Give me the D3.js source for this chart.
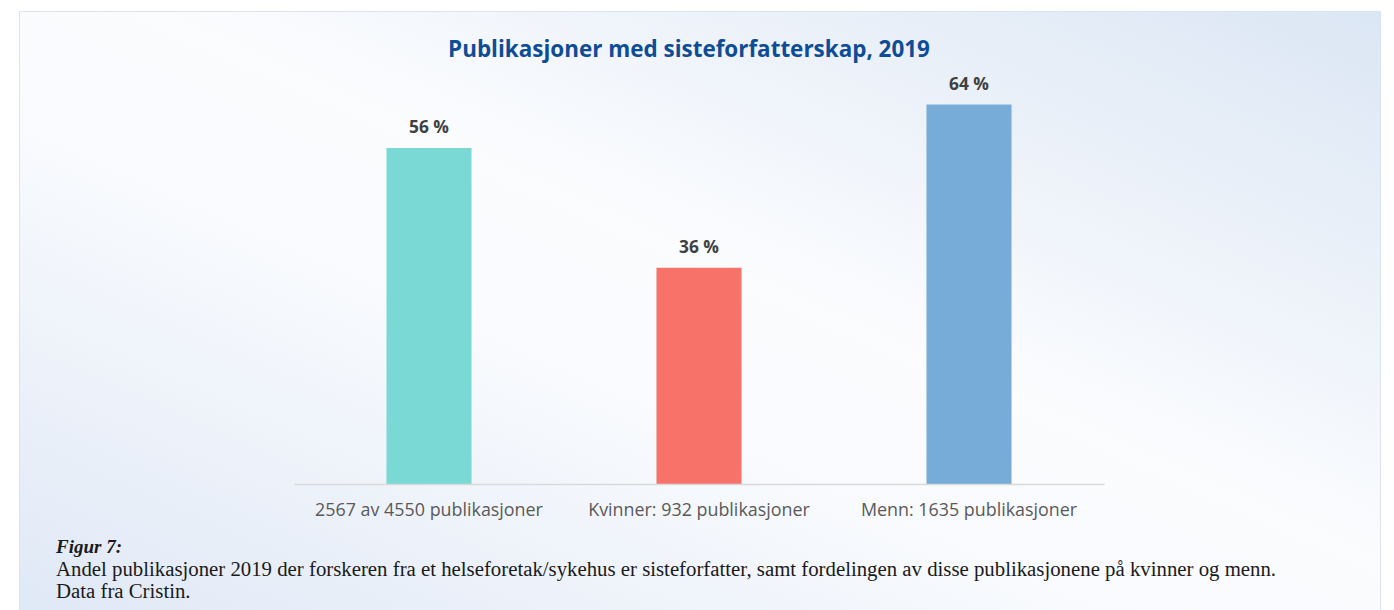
<!DOCTYPE html>
<html>
<head>
<meta charset="utf-8">
<script src="https://cdn.jsdelivr.net/npm/d3@7"></script>
<style>
	body { margin: 0; background: #ffffff; }
	svg { display: block; }
</style>
</head>
<body>
<svg id="svg"></svg>
<script>
var width = 1394, height = 610;

// data
var categories = ["2567 av 4550 publikasjoner", "Kvinner: 932 publikasjoner", "Menn: 1635 publikasjoner"];
var shares = [56.4, 36.3, 63.7];
var barColors = ["#7ad9d4", "#f7736a", "#77acd9"];
var title = "Publikasjoner med sisteforfatterskap, 2019";
var captionHead = "Figur 7:";
var captionLines = [
	"Andel publikasjoner 2019 der forskeren fra et helseforetak/sykehus er sisteforfatter, samt fordelingen av disse publikasjonene på kvinner og menn.",
	"Data fra Cristin."
];

var svg = d3.select("#svg")
	.attr("width", width)
	.attr("height", height);

// font size that makes a text reach a measured width
function fitSize(sel, target)
{
	var size = parseFloat(sel.style("font-size"));
	var w = sel.node().getComputedTextLength();
	return size * target / w;
}

var defs = svg.append("defs");
var grad = defs.append("linearGradient")
	.attr("id", "bg")
	.attr("x1", 1).attr("y1", 0)
	.attr("x2", 0).attr("y2", 1);
grad.append("stop").attr("offset", 0).attr("stop-color", "#dbe6f4");
grad.append("stop").attr("offset", 0.45).attr("stop-color", "#fbfcfe");
grad.append("stop").attr("offset", 0.6).attr("stop-color", "#f8fafd");
grad.append("stop").attr("offset", 1).attr("stop-color", "#dfe8f6");

svg.append("rect")
	.attr("x", 19.5)
	.attr("y", 11.5)
	.attr("width", 1361)
	.attr("height", 610)
	.style("fill", "url(#bg)")
	.style("stroke", "#dbe5f2")
	.style("stroke-width", 1);

var x = d3.scaleBand()
	.domain(categories)
	.range([294, 1104])
	.paddingInner(0.685)
	.paddingOuter(0.3425);
var y = d3.scaleLinear()
	.domain([0, 70])
	.range([484, 67]);

svg.selectAll("rect.bar")
	.data(shares)
	.enter()
	.append("rect")
	.attr("class", "bar")
	.attr("x", function(d, i) { return x(categories[i]); })
	.attr("y", function(d) { return y(d); })
	.attr("width", x.bandwidth())
	.attr("height", function(d) { return y(0) - y(d); })
	.style("fill", function(d, i) { return barColors[i]; });

var vals = svg.selectAll("text.value")
	.data(shares)
	.enter()
	.append("text")
	.attr("class", "value")
	.attr("x", function(d, i) { return x(categories[i]) + x.bandwidth() / 2; })
	.attr("y", function(d) { return y(d) - 15; })
	.style("text-anchor", "middle")
	.style("font-family", "'Open Sans', sans-serif")
	.style("font-weight", "bold")
	.style("font-size", "16px")
	.style("fill", "#404040")
	.text(function(d) { return Math.round(d) + " %"; });
vals.style("font-size", fitSize(d3.select(vals.nodes()[0]), 40) + "px");

var xAxis = d3.axisBottom(x)
	.tickSize(0)
	.tickPadding(19);
var gx = svg.append("g")
	.attr("transform", "translate(0," + y(0) + ")")
	.call(xAxis);
gx.select(".domain")
	.attr("stroke", "#d9d9d9")
	.attr("stroke-width", 1.5);
var ticks = gx.selectAll(".tick text")
	.style("font-family", "'Open Sans', sans-serif")
	.style("font-size", "16px")
	.style("fill", "#595959");
ticks.style("font-size", fitSize(d3.select(ticks.nodes()[0]), 228) + "px");

var t = svg.append("text")
	.attr("x", 689)
	.attr("y", 57)
	.style("text-anchor", "middle")
	.style("font-family", "'Open Sans', sans-serif")
	.style("font-weight", "bold")
	.style("font-size", "22px")
	.style("fill", "#0e4c96")
	.text(title);
t.style("font-size", fitSize(t, 482) + "px");

var cap = svg.append("g")
	.style("font-family", "'Liberation Serif', 'DejaVu Serif', serif")
	.style("fill", "#1a1a1a");
var head = cap.append("text")
	.attr("x", 56)
	.attr("y", 553)
	.style("font-weight", "bold")
	.style("font-style", "italic")
	.style("font-size", "17px")
	.text(captionHead);
head.style("font-size", fitSize(head, 66) + "px");
var capText = cap.selectAll("text.line")
	.data(captionLines)
	.enter()
	.append("text")
	.attr("class", "line")
	.attr("x", 56)
	.attr("y", function(d, i) { return 576 + i * 21.5; })
	.style("font-size", "17px")
	.text(function(d) { return d; });
capText.style("font-size", fitSize(d3.select(capText.nodes()[0]), 1221) + "px");
</script>
</body>
</html>
